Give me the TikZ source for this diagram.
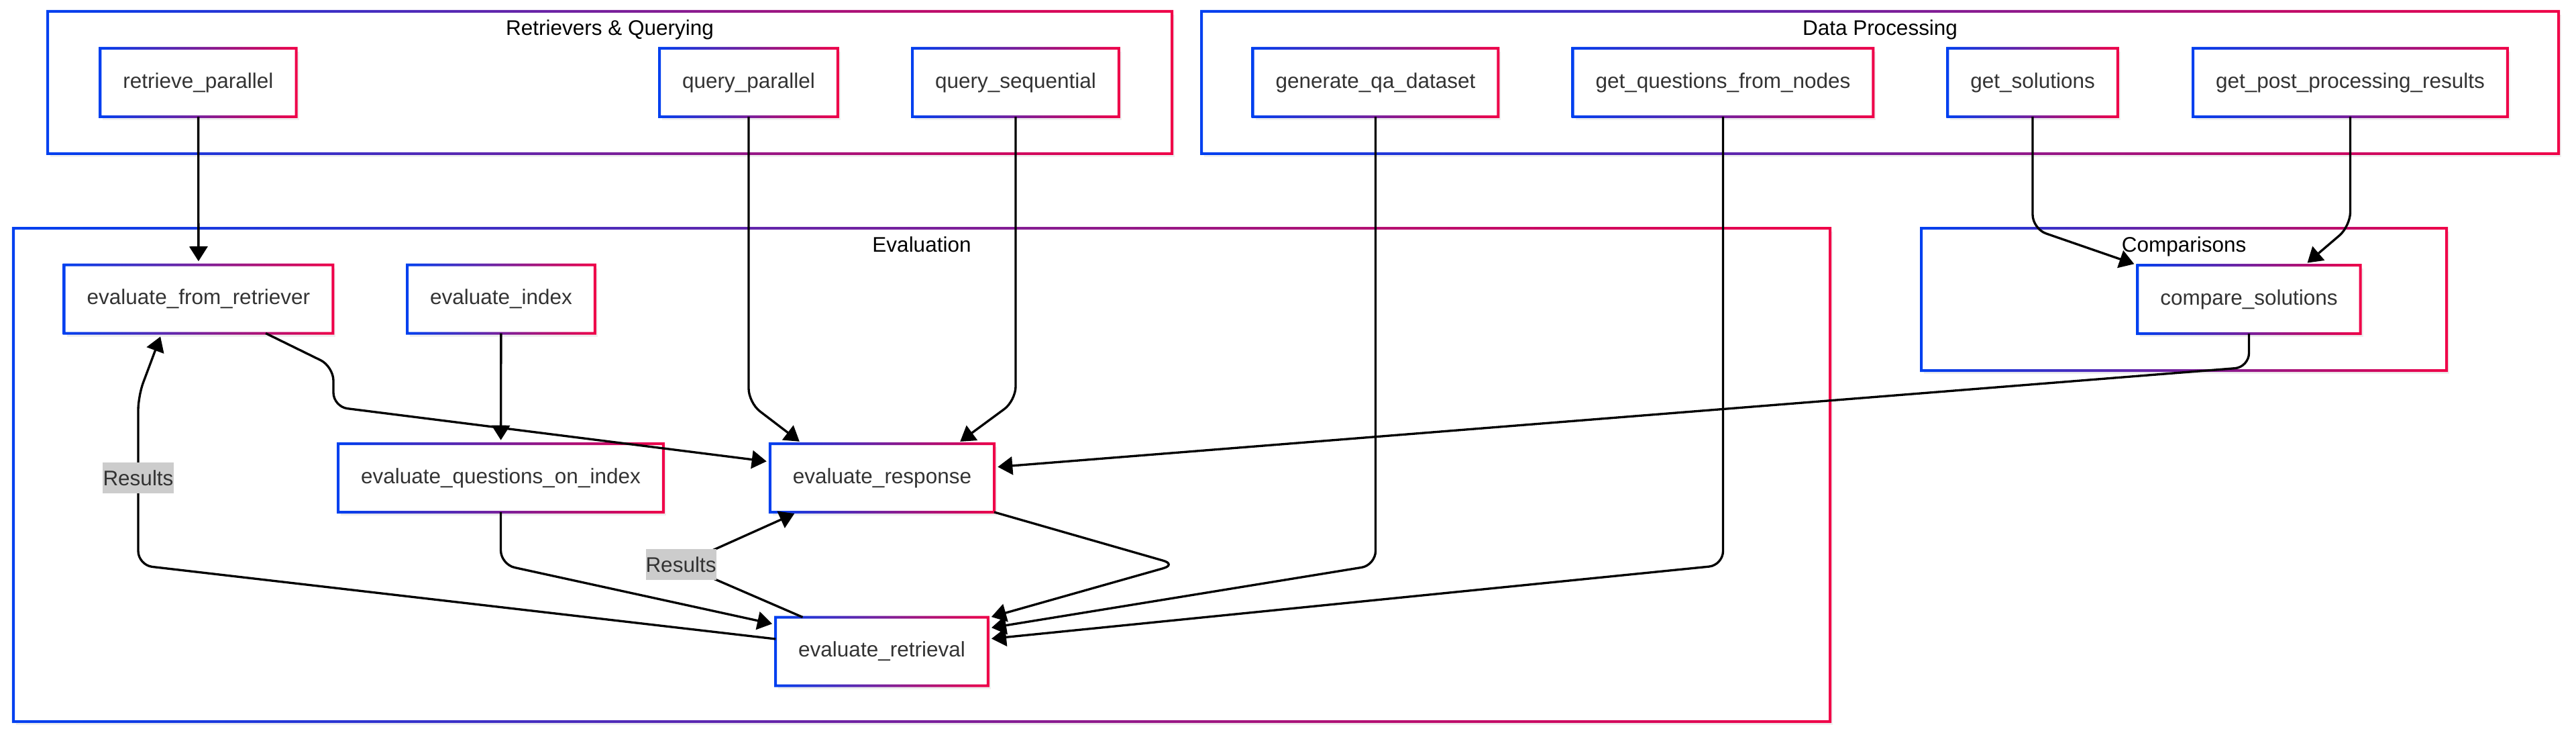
\documentclass[tikz,border=0pt]{standalone}
\usepackage{fontspec}
\setmainfont{Liberation Sans}
\usetikzlibrary{positioning,arrows.meta,calc,shadows}
\tikzset{>={Triangle[length=2.2mm,width=2.7mm]}}
\definecolor{gblue}{RGB}{0,64,240}
\definecolor{gred}{RGB}{240,0,72}
\definecolor{fgtext}{RGB}{51,51,51}
\definecolor{lblgrey}{RGB}{204,204,204}
% blue-to-red frame round a node
\newcommand{\gradborder}[1]{%
  \shade[left color=gblue, right color=gred, even odd rule]
    ($(#1.south west)+(-0.02,-0.02)$) rectangle ($(#1.north east)+(0.02,0.02)$)
    ($(#1.south west)+(0.02,0.02)$) rectangle ($(#1.north east)+(-0.02,-0.02)$);}

\begin{document}
\begin{tikzpicture}[font=\fontsize{8.96pt}{10.8pt}\selectfont,
    func/.style={fill=white, text=fgtext, inner xsep=0.34cm, inner ysep=0pt, outer sep=0pt,
      minimum height=1.02cm, drop shadow={opacity=0.12, shadow xshift=0.4mm, shadow yshift=-0.5mm}},
    cluster/.style={fill=white, inner sep=0pt, outer sep=0pt,
      drop shadow={opacity=0.12, shadow xshift=0.4mm, shadow yshift=-0.5mm}},
    title/.style={text=black},
    lbl/.style={fill=lblgrey, text=fgtext, inner xsep=0pt, inner ysep=0pt, minimum height=0.46cm, sharp corners},
    flow/.style={->, line width=0.95pt, rounded corners=6pt, shorten >=1.5pt}]
  \useasboundingbox (0,0) rectangle (38.4,-10.97);

  % subgraphs
  \node[cluster, minimum width=16.76cm, minimum height=2.12cm] (rq) at (9.09,-1.23) {};
  \node[cluster, minimum width=20.23cm, minimum height=2.12cm] (dp) at (28.025,-1.23) {};
  \node[cluster, minimum width=27.08cm, minimum height=7.35cm] (ev) at (13.74,-7.075) {};
  \node[cluster, minimum width=7.83cm, minimum height=2.12cm] (cmp) at (32.555,-4.46) {};
  \node[title, below=0pt of rq.north] (rqt) {Retrievers \& Querying};
  \node[title, below=0pt of dp.north] (dpt) {Data Processing};
  \node[title, below=0pt of ev.north] (evt) {Evaluation};
  \node[title, below=0pt of cmp.north] (cmpt) {Comparisons};

  \node[func] (rp) at (2.955,-1.23) {retrieve\_parallel};
  \node[func] (qp) at (11.16,-1.23) {query\_parallel};
  \node[func] (qs) at (15.14,-1.23) {query\_sequential};
  \node[func] (gq) at (20.505,-1.23) {generate\_qa\_dataset};
  \node[func] (gqn) at (25.685,-1.23) {get\_questions\_from\_nodes};
  \node[func] (gs) at (30.30,-1.23) {get\_solutions};
  \node[func] (gpp) at (35.035,-1.23) {get\_post\_processing\_results};
  \node[func] (efr) at (2.96,-4.455) {evaluate\_from\_retriever};
  \node[func] (ei) at (7.47,-4.455) {evaluate\_index};
  \node[func] (eqi) at (7.465,-7.12) {evaluate\_questions\_on\_index};
  \node[func] (er) at (13.15,-7.12) {evaluate\_response};
  \node[func] (ert) at (13.145,-9.705) {evaluate\_retrieval};
  \node[func] (cs) at (33.525,-4.46) {compare\_solutions};

  \foreach \n in {rq,dp,ev,cmp,rp,qp,qs,gq,gqn,gs,gpp,efr,ei,eqi,er,ert,cs}
    \gradborder{\n};

  \path[flow] (rp) edge (efr)
              (ei) edge (eqi);
  \draw[flow] (qp.south) -- ++(0,-4.26) -- ([xshift=-1.19cm]er.north);
  \draw[flow] (qs.south) -- ++(0,-4.23) -- ([xshift=1.12cm]er.north);
  \draw[flow] (gq.south) -- ++(0,-6.68) -- ([yshift=0.345cm]ert.east);
  \draw[flow] (gqn.south) -- ++(0,-6.68) -- ([yshift=0.185cm]ert.east);
  \draw[flow] (er.south east) -- ++(2.72,-0.78) -- ([yshift=0.5cm]ert.east);
  \draw[flow] (cs.south) -- ++(0,-0.5) -- ([yshift=0.16cm]er.east);
  \draw[flow] (gs.south) -- ++(0,-1.67) -- (cs.north west);
  \draw[flow] (gpp.south) -- ++(0,-1.63) -- ([xshift=0.83cm]cs.north);
  \draw[flow] ([xshift=1cm]efr.south) -- ++(1.01,-0.495) -- ++(0,-0.6) -- ([yshift=0.24cm]er.west);
  \draw[flow] (eqi.south) -- ++(0,-0.78) -- ([yshift=0.4cm]ert.west);
  % results fed back
  \draw[flow] ([yshift=0.185cm]ert.west) -- (2.06,-8.42)
              -- (2.06,-5.9) node[lbl, pos=0.516] {Results}
              -- ([xshift=-0.55cm]efr.south);
  \draw[flow, rounded corners=0pt] ([xshift=-1.18cm]ert.north) -- (10.15,-8.41) node[lbl] {Results}
              -- ([xshift=-1.26cm]er.south);
\end{tikzpicture}
\end{document}
